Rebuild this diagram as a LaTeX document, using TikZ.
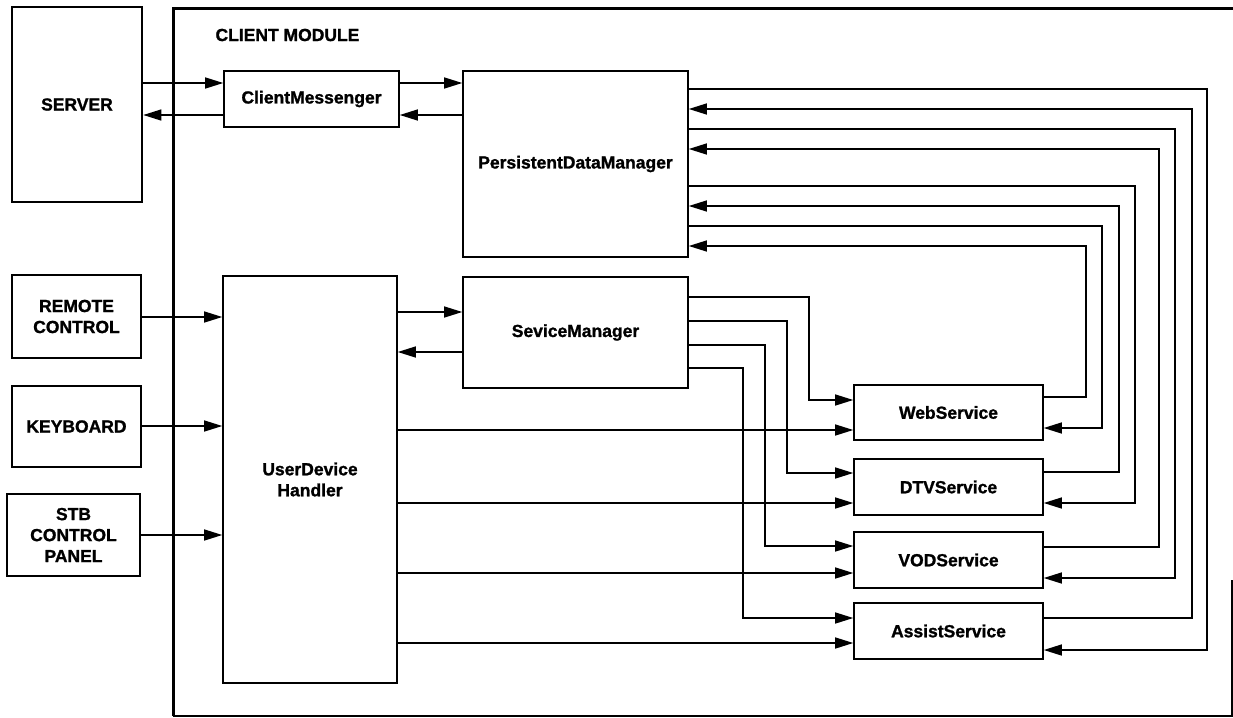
\documentclass[tikz,border=0pt]{standalone}
\usepackage{fontspec}
\setmainfont{Liberation Sans}
\newfontfamily\heavyfont{Liberation Sans}[UprightFont=*-Bold, FakeBold=1.3]
\usetikzlibrary{arrows.meta}
\tikzset{
  lbl/.style={font=\heavyfont\fontsize{17.5}{21}\selectfont, align=center},
  inbox/.style={draw, line width=1.6pt, rectangle, inner sep=0pt, lbl},
  exbox/.style={draw, line width=2.6pt, rectangle, inner sep=0pt, lbl},
  conn/.style={line width=1.4pt},
  arr/.style={conn, -{Triangle[length=18pt,width=11pt]}}
}
\begin{document}
\begin{tikzpicture}[x=1pt,y=-1pt]
\useasboundingbox (0,0) rectangle (1233,717);
% client module frame
\draw[line width=3pt] (173,716) -- (173,9) -- (1233,9);
\draw[line width=1.5pt] (173,716) -- (1232,716) -- (1232,580);
\node[lbl, anchor=west] (cmlabel) at (212,35) {CLIENT MODULE};

% external boxes
\node[exbox, minimum width=130pt, minimum height=195pt] (server) at (77,104.5) {SERVER};
\node[exbox, minimum width=129pt, minimum height=83pt] (rc) at (76.5,316.5) {REMOTE\\CONTROL};
\node[exbox, minimum width=129pt, minimum height=81pt] (kb) at (76.5,426.5) {KEYBOARD};
\node[exbox, minimum width=133pt, minimum height=82pt] (stb) at (73.5,535) {STB\\CONTROL\\PANEL};

% internal boxes
\node[inbox, minimum width=175pt, minimum height=56pt] (cm) at (311.5,99) {ClientMessenger};
\node[inbox, minimum width=225pt, minimum height=186pt] (pdm) at (575.5,164) {PersistentDataManager};
\node[inbox, minimum width=225pt, minimum height=111pt] (sm) at (575.5,332.5) {SeviceManager};
\node[inbox, minimum width=174pt, minimum height=407pt] (udh) at (310,479.5) {UserDevice\\Handler};
\node[inbox, minimum width=189pt, minimum height=55pt] (web) at (948.5,412.5) {WebService};
\node[inbox, minimum width=189pt, minimum height=56pt] (dtv) at (948.5,487) {DTVService};
\node[inbox, minimum width=189pt, minimum height=56pt] (vod) at (948.5,560) {VODService};
\node[inbox, minimum width=189pt, minimum height=56pt] (assist) at (948.5,631) {AssistService};

% server <-> client messenger <-> pdm
\draw[arr] (server.east |- 0,83) -- (cm.west |- 0,83);
\draw[arr] (cm.west |- 0,115) -- (server.east |- 0,115);
\draw[arr] (cm.east |- 0,83) -- (pdm.west |- 0,83);
\draw[arr] (pdm.west |- 0,115) -- (cm.east |- 0,115);

% input devices -> UDH
\draw[arr] (rc.east |- 0,317) -- (udh.west |- 0,317);
\draw[arr] (kb.east |- 0,426) -- (udh.west |- 0,426);
\draw[arr] (stb.east |- 0,535) -- (udh.west |- 0,535);

% UDH <-> SM
\draw[arr] (udh.east |- 0,312) -- (sm.west |- 0,312);
\draw[arr] (sm.west |- 0,352) -- (udh.east |- 0,352);

% SM -> services
\draw[arr] (sm.east |- 0,297) -| (809,400) -- (web.west |- 0,400);
\draw[arr] (sm.east |- 0,321) -| (787,473) -- (dtv.west |- 0,473);
\draw[arr] (sm.east |- 0,345) -| (765,546) -- (vod.west |- 0,546);
\draw[arr] (sm.east |- 0,368) -| (743,618) -- (assist.west |- 0,618);

% UDH -> services
\draw[arr] (udh.east |- 0,430) -- (web.west |- 0,430);
\draw[arr] (udh.east |- 0,503) -- (dtv.west |- 0,503);
\draw[arr] (udh.east |- 0,573) -- (vod.west |- 0,573);
\draw[arr] (udh.east |- 0,643) -- (assist.west |- 0,643);

% services <-> PDM
\draw[arr] (web.east |- 0,397) -| (1086,246) -- (pdm.east |- 0,246);
\draw[arr] (pdm.east |- 0,226) -| (1102,428) -- (web.east |- 0,428);
\draw[arr] (dtv.east |- 0,472) -| (1119,206) -- (pdm.east |- 0,206);
\draw[arr] (pdm.east |- 0,186) -| (1135,503) -- (dtv.east |- 0,503);
\draw[arr] (vod.east |- 0,547) -| (1159,149) -- (pdm.east |- 0,149);
\draw[arr] (pdm.east |- 0,129) -| (1175,578) -- (vod.east |- 0,578);
\draw[arr] (assist.east |- 0,618) -| (1192,109) -- (pdm.east |- 0,109);
\draw[arr] (pdm.east |- 0,89) -| (1207,650) -- (assist.east |- 0,650);
\end{tikzpicture}
\end{document}
